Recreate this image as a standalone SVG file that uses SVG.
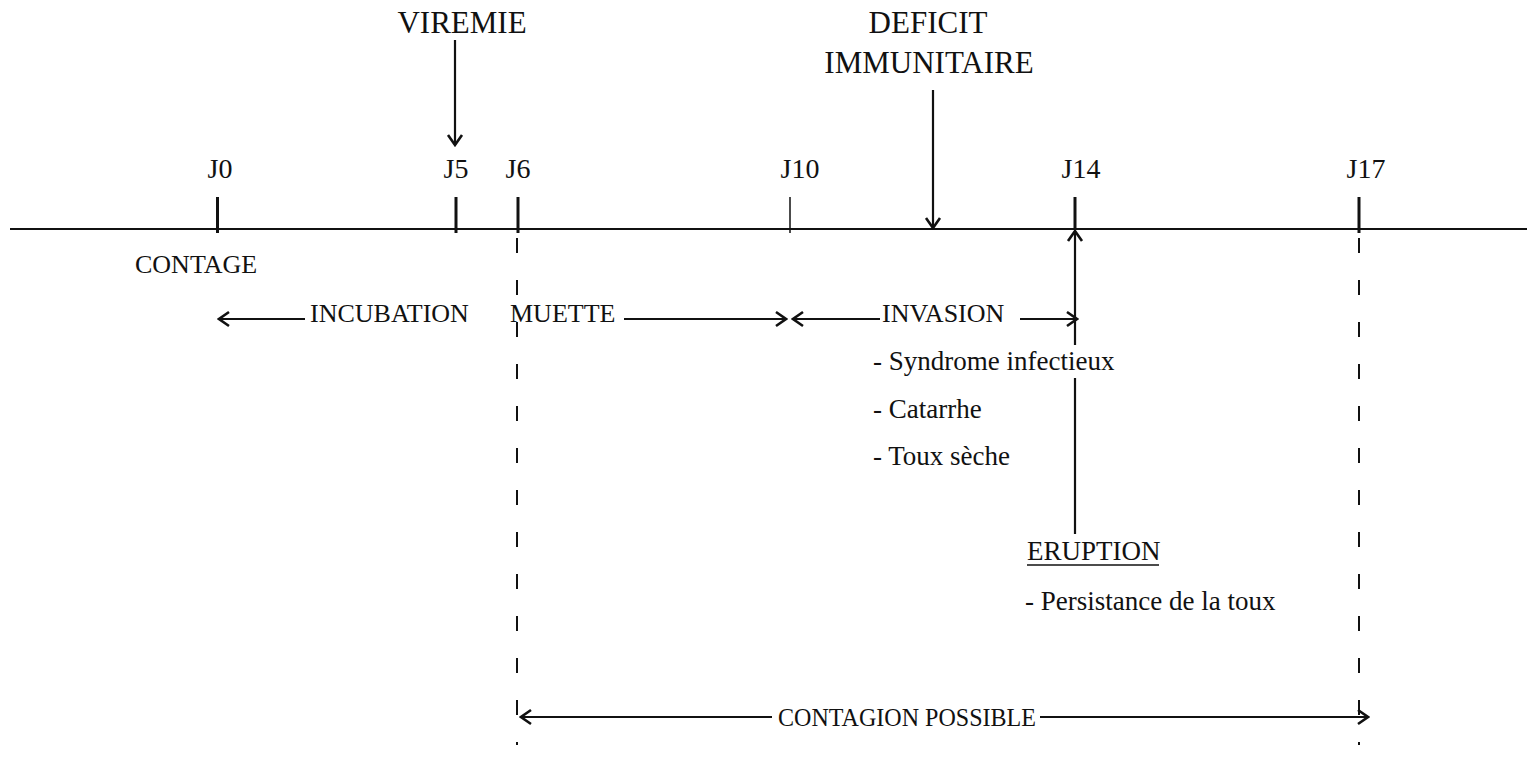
<svg xmlns="http://www.w3.org/2000/svg" width="1527" height="758" viewBox="0 0 1527 758">
  <style>
    text { font-family: 'Liberation Serif', 'DejaVu Serif', serif; fill: #111; }
    .top { font-size: 31px; text-anchor: middle; }
    .day { font-size: 28px; text-anchor: middle; }
    .lbl { font-size: 26px; }
    .item { font-size: 27px; }
    .tick { stroke: #111; stroke-width: 3; }
    .thin { stroke: #111; stroke-width: 1.5; }
    .conn { stroke: #111; stroke-width: 2.2; fill: none; }
    .dash { stroke: #111; stroke-width: 2; stroke-dasharray: 15 27; fill: none; }
  </style>
  <defs>
    <marker id="head" viewBox="-12 -9 14 18" markerWidth="14" markerHeight="18" refX="0" refY="0" markerUnits="userSpaceOnUse" orient="auto-start-reverse">
      <path d="M-10,-7 L0,0 L-10,7" fill="none" stroke="#111" stroke-width="2.6"/>
    </marker>
  </defs>
  <rect width="1527" height="758" fill="#fff"/>

  <g id="axis">
    <line x1="10" y1="229" x2="1527" y2="229" stroke="#111" stroke-width="2"/>
  </g>

  <g id="viremie">
    <text class="top" x="462" y="33" font-family="Liberation Serif, serif">VIREMIE</text>
  </g>
  <g id="deficit">
    <text class="top" x="928" y="33" font-family="Liberation Serif, serif">DEFICIT</text>
    <text class="top" x="929" y="73" font-family="Liberation Serif, serif">IMMUNITAIRE</text>
  </g>

  <g id="j0">
    <text class="day" x="220" y="178">J0</text>
    <line class="tick" x1="217.5" y1="197" x2="217.5" y2="233"/>
  </g>
  <g id="j5">
    <text class="day" x="456" y="178">J5</text>
    <line class="tick" x1="456" y1="197" x2="456" y2="233"/>
  </g>
  <g id="j6">
    <text class="day" x="518" y="178">J6</text>
    <line class="tick" x1="518" y1="197" x2="518" y2="233"/>
  </g>
  <g id="j10">
    <text class="day" x="800" y="178">J10</text>
    <line class="thin" x1="790" y1="197" x2="790" y2="233"/>
  </g>
  <g id="j14">
    <text class="day" x="1081" y="178">J14</text>
    <line class="tick" x1="1075" y1="197" x2="1075" y2="229"/>
  </g>
  <g id="j17">
    <text class="day" x="1366" y="178">J17</text>
    <line class="tick" x1="1359" y1="197" x2="1359" y2="233"/>
  </g>

  <g id="contage">
    <text class="lbl" x="135" y="273">CONTAGE</text>
  </g>
  <g id="incubation">
    <text class="lbl" x="310" y="322">INCUBATION</text>
  </g>
  <g id="muette">
    <text class="lbl" x="510" y="322">MUETTE</text>
  </g>
  <g id="invasion">
    <text class="lbl" x="882" y="322">INVASION</text>
    <text class="item" x="873" y="370">- Syndrome infectieux</text>
    <text class="item" x="873" y="418">- Catarrhe</text>
    <text class="item" x="873" y="465">- Toux sèche</text>
  </g>
  <g id="eruption">
    <text class="item" x="1027" y="560">ERUPTION</text>
    <line x1="1027" y1="565" x2="1159" y2="565" stroke="#111" stroke-width="1.3"/>
    <text class="item" x="1025" y="610">- Persistance de la toux</text>
  </g>
  <g id="contagion">
    <text class="lbl" x="778" y="726" textLength="258" lengthAdjust="spacingAndGlyphs">CONTAGION POSSIBLE</text>
  </g>

  <g id="connectors">
    <line class="conn" x1="455" y1="40" x2="455" y2="145" marker-end="url(#head)"/>
    <line class="conn" x1="933" y1="90" x2="933" y2="228" marker-end="url(#head)"/>
    <line class="conn" x1="305" y1="319" x2="219" y2="319" marker-end="url(#head)"/>
    <line class="conn" x1="624" y1="319" x2="786" y2="319" marker-end="url(#head)"/>
    <line class="conn" x1="880" y1="319" x2="793" y2="319" marker-end="url(#head)"/>
    <line class="conn" x1="1020" y1="319" x2="1077" y2="319" marker-end="url(#head)"/>
    <line class="conn" x1="1075" y1="345" x2="1075" y2="231" marker-end="url(#head)"/>
    <line class="conn" x1="1075" y1="378" x2="1075" y2="534"/>
    <line class="dash" x1="517" y1="238" x2="517" y2="745"/>
    <line class="dash" x1="1359" y1="238" x2="1359" y2="745"/>
    <line class="conn" x1="772" y1="717" x2="521" y2="717" marker-end="url(#head)"/>
    <line class="conn" x1="1040" y1="717" x2="1368" y2="717" marker-end="url(#head)"/>
  </g>
</svg>
